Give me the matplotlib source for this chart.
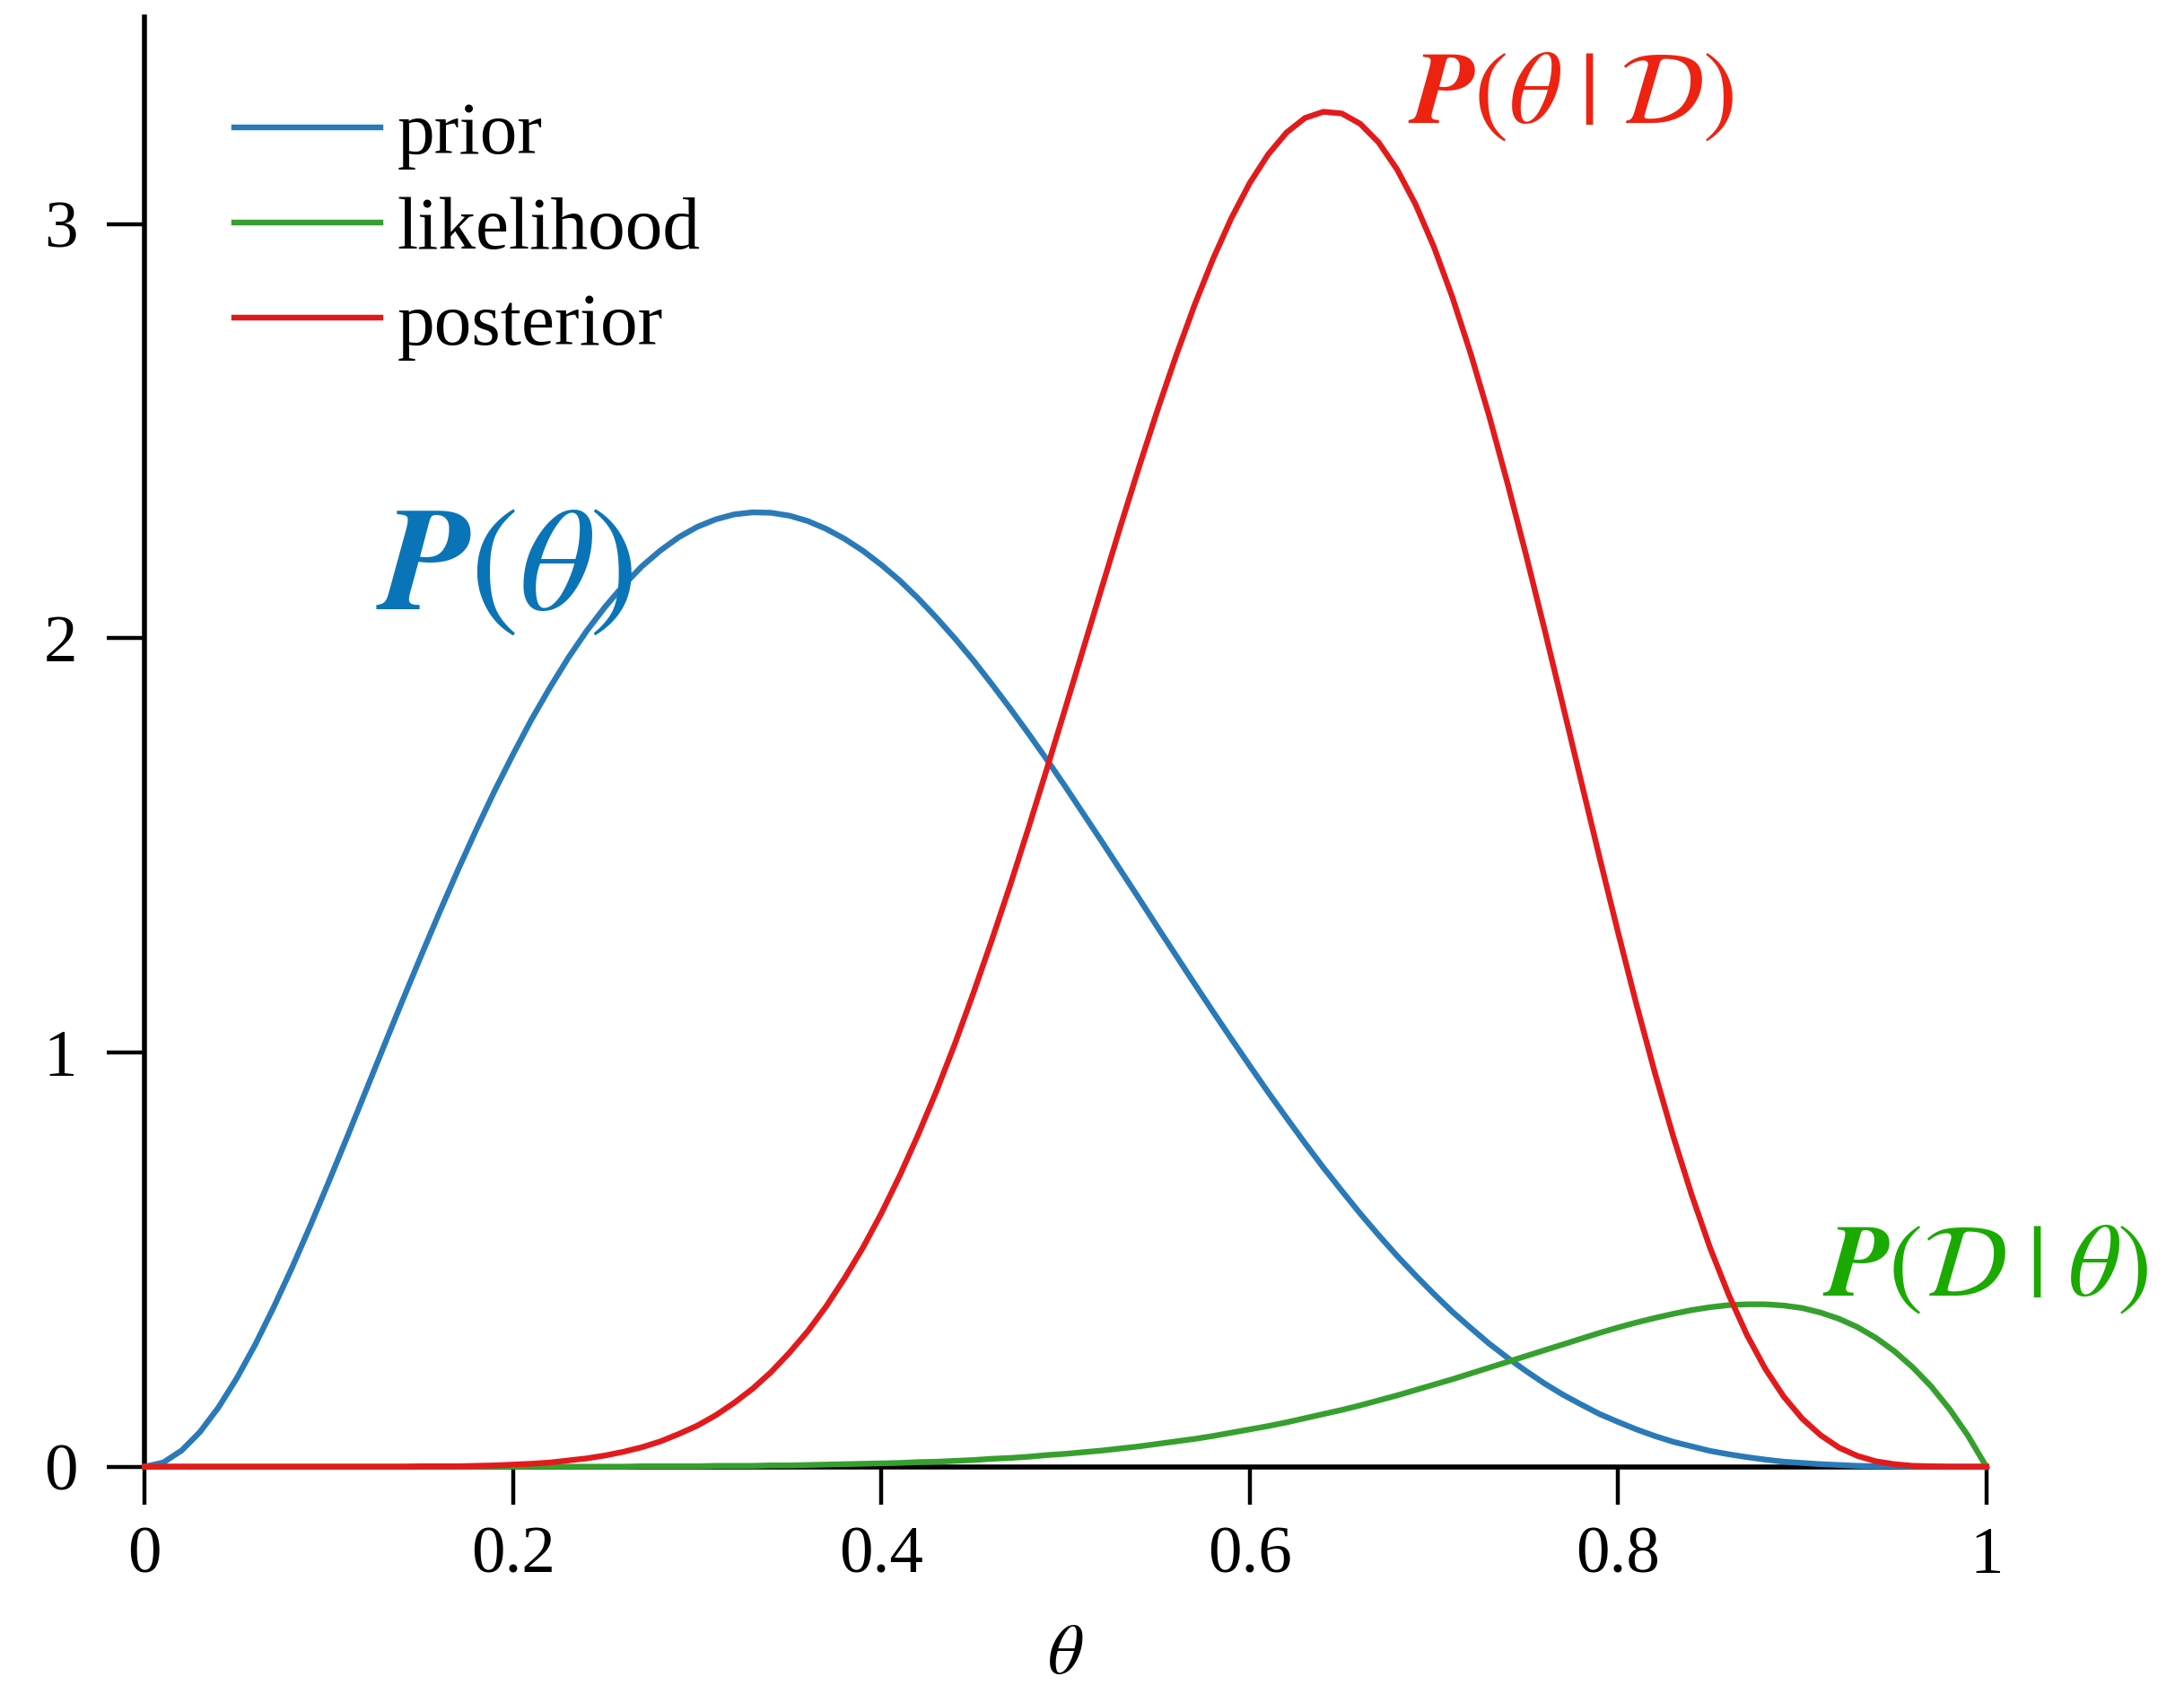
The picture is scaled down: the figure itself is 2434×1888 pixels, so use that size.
import numpy as np
import matplotlib
matplotlib.use('Agg')
import matplotlib.pyplot as plt

# theta grid, step 0.01
theta = np.round(np.linspace(0, 1, 101), 2)

prior = [0.0, 0.01, 0.039, 0.084, 0.143, 0.214, 0.295, 0.385, 0.481, 0.583, 0.689, 0.797, 0.907, 1.017, 1.126,
         1.233, 1.338, 1.44, 1.538, 1.632, 1.72, 1.804, 1.881, 1.953, 2.018, 2.076, 2.128, 2.174, 2.212, 2.244,
         2.269, 2.287, 2.299, 2.304, 2.303, 2.296, 2.283, 2.264, 2.24, 2.211, 2.177, 2.139, 2.096, 2.049, 1.999,
         1.946, 1.889, 1.83, 1.769, 1.706, 1.641, 1.574, 1.507, 1.439, 1.371, 1.302, 1.234, 1.166, 1.099, 1.033,
         0.968, 0.904, 0.842, 0.781, 0.722, 0.666, 0.611, 0.559, 0.509, 0.462, 0.417, 0.374, 0.335, 0.297, 0.263,
         0.231, 0.201, 0.174, 0.15, 0.127, 0.108, 0.09, 0.074, 0.06, 0.049, 0.038, 0.03, 0.023, 0.017, 0.012,
         0.009, 0.006, 0.004, 0.002, 0.001, 0.001, 0.0, 0.0, 0.0, 0.0, 0.0]

likelihood = [0.0, 0.0, 0.0, 0.0, 0.0, 0.0, 0.0, 0.0, 0.0, 0.0, 0.0, 0.0, 0.0, 0.0, 0.0, 0.0, 0.0, 0.0, 0.0, 0.0,
              0.0, 0.0, 0.0, 0.0, 0.0, 0.0, 0.0, 0.001, 0.001, 0.001, 0.001, 0.002, 0.002, 0.002, 0.003, 0.003,
              0.004, 0.005, 0.006, 0.007, 0.008, 0.009, 0.011, 0.012, 0.014, 0.016, 0.019, 0.021, 0.024, 0.028,
              0.031, 0.035, 0.039, 0.044, 0.049, 0.055, 0.061, 0.067, 0.074, 0.082, 0.09, 0.098, 0.107, 0.117,
              0.127, 0.137, 0.148, 0.16, 0.172, 0.185, 0.198, 0.211, 0.225, 0.239, 0.253, 0.267, 0.281, 0.295,
              0.309, 0.323, 0.336, 0.348, 0.359, 0.369, 0.378, 0.385, 0.39, 0.392, 0.392, 0.389, 0.383, 0.372,
              0.357, 0.337, 0.311, 0.279, 0.24, 0.194, 0.139, 0.075, 0.0]

posterior = [0.0, 0.0, 0.0, 0.0, 0.0, 0.0, 0.0, 0.0, 0.0, 0.0, 0.0, 0.0, 0.0, 0.0, 0.0, 0.001, 0.001, 0.001, 0.002, 0.003,
             0.005, 0.007, 0.01, 0.015, 0.02, 0.027, 0.036, 0.047, 0.061, 0.079, 0.099, 0.124, 0.154, 0.188, 0.228, 0.275,
             0.327, 0.387, 0.455, 0.529, 0.612, 0.703, 0.802, 0.908, 1.022, 1.144, 1.272, 1.405, 1.544, 1.687, 1.833, 1.98,
             2.127, 2.273, 2.415, 2.552, 2.682, 2.804, 2.915, 3.014, 3.099, 3.168, 3.221, 3.256, 3.271, 3.267, 3.242, 3.197,
             3.132, 3.048, 2.945, 2.824, 2.687, 2.537, 2.374, 2.202, 2.023, 1.839, 1.654, 1.47, 1.29, 1.116, 0.951, 0.797,
             0.656, 0.528, 0.416, 0.318, 0.236, 0.169, 0.116, 0.076, 0.046, 0.026, 0.013, 0.006, 0.002, 0.001, 0.0, 0.0, 0.0]

xticks = [0, 0.2, 0.4, 0.6, 0.8, 1]
xticklabels = ['0', '0.2', '0.4', '0.6', '0.8', '1']
yticks = [0, 1, 2, 3]
yticklabels = ['0', '1', '2', '3']

plt.rcParams['font.family'] = 'serif'
plt.rcParams['font.serif'] = ['Liberation Serif', 'DejaVu Serif']
plt.rcParams['mathtext.fontset'] = 'stix'

fig = plt.figure(figsize=(12.17, 9.44), dpi=200)
ax = fig.add_axes([0.0663, 0.1342, 0.8432, 0.8558])

ax.plot(theta, prior, color='#2a7ab8', lw=2.3, label='prior', zorder=3, clip_on=False)
ax.plot(theta, likelihood, color='#36a02e', lw=2.3, label='likelihood', zorder=3, clip_on=False)
ax.plot(theta, posterior, color='#e31a1c', lw=2.3, label='posterior', zorder=3, clip_on=False)

ax.set_xlim(0, 1)
ax.set_ylim(0, 3.5)
ax.set_xticks(xticks)
ax.set_xticklabels(xticklabels)
ax.set_yticks(yticks)
ax.set_yticklabels(yticklabels)
ax.spines['top'].set_visible(False)
ax.spines['right'].set_visible(False)
for s in ['left', 'bottom']:
    ax.spines[s].set_linewidth(2.0)
ax.tick_params(axis='both', direction='out', length=15, width=1.6, labelsize=27)
ax.tick_params(axis='x', pad=9)
ax.tick_params(axis='y', pad=12)

ax.set_xlabel(r'$\theta$', fontsize=28)
ax.xaxis.set_label_coords(0.5, -0.109)

ax.legend(loc='upper left', bbox_to_anchor=(0.0484, 0.942), frameon=False, fontsize=30,
          borderpad=0, borderaxespad=0, handlelength=1.96, handletextpad=0.22, labelspacing=0.36)

# annotations
ax.text(0.1256, 2.07, r'$\mathbfit{P}(\theta)$', color='#0a74b8', fontsize=59, ha='left', va='baseline')
ax.text(0.686, 3.245, r'$\mathbfit{P}(\theta\;|\;\mathcal{D})$', color='#ee2211', fontsize=41.5,
        ha='left', va='baseline')
ax.text(0.911, 0.414, r'$\mathbfit{P}(\mathcal{D}\;|\;\theta)$', color='#1aaa00', fontsize=41.5,
        ha='left', va='baseline')

fig.savefig('out.png', dpi=200)
